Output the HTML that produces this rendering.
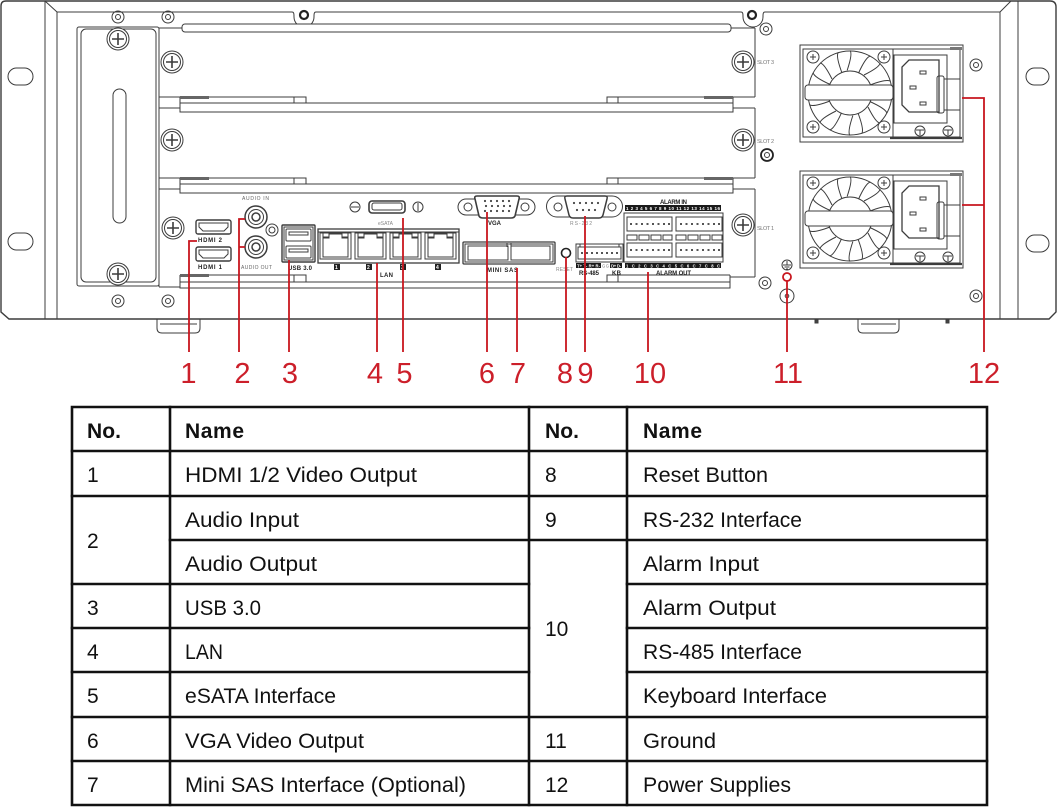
<!DOCTYPE html>
<html><head><meta charset="utf-8"><title>Rear Panel</title>
<style>html,body{margin:0;padding:0;background:#fff}svg{display:block}</style>
</head><body>
<svg xmlns="http://www.w3.org/2000/svg" width="1058" height="808" viewBox="0 0 1058 808" font-family="Liberation Sans, Arial, sans-serif">
<rect width="1058" height="808" fill="#fff"/>

<!-- ================= DEVICE ================= -->
<g fill="none" stroke="#3c3c3c" stroke-width="1">
 <!-- chassis -->
 <path d="M6,1 H1050 Q1056,1 1056,7 V312 L1049,319 H9 L1,312 V6 Q1,1 6,1 Z" stroke-width="1.4"/>
 <path d="M45,1 V319 M57,12 V319 M45,1 L57,12"/>
 <path d="M1018,1 V319 M1000,12 V319 M1000,12 L1011,1"/>
 <path d="M57,12 H292 C294,12 294,14 294,17 A10,10 0 0 0 314,17 C314,14 314,12 316,12 H741 C743,12 743,14 743,17 A10,10 0 0 0 763,17 C763,14 763,12 765,12 H1000"/>
 <rect x="8" y="68" width="25" height="17" rx="8.5"/>
 <rect x="8" y="233" width="25" height="17" rx="8.5"/>
 <rect x="1026" y="68" width="23" height="17" rx="8.5"/>
 <rect x="1026" y="235" width="23" height="17" rx="8.5"/>
 <!-- feet -->
 <path d="M157,319 V328 Q157,333 162,333 H195 Q200,333 200,328 V319 M160,324 H197"/>
 <path d="M858,319 V328 Q858,333 863,333 H894 Q899,333 899,328 V319 M861,324 H896"/>
 <rect x="815" y="320" width="3" height="3" fill="#444"/>
 <rect x="946" y="320" width="3" height="3" fill="#444"/>

 <!-- top screws -->
 <circle cx="304" cy="15" r="4" stroke="#222" stroke-width="2.2"/>
 <circle cx="752" cy="15" r="4" stroke="#222" stroke-width="2.2"/>
 <!-- small double circles -->
 <circle cx="118" cy="17" r="6"/><circle cx="118" cy="17" r="2.5"/>
 <circle cx="168" cy="17" r="6"/><circle cx="168" cy="17" r="2.5"/>
 <circle cx="118" cy="301" r="6"/><circle cx="118" cy="301" r="2.5"/>
 <circle cx="168" cy="301" r="6"/><circle cx="168" cy="301" r="2.5"/>
 <circle cx="766" cy="29" r="6"/><circle cx="766" cy="29" r="2.5"/>
 <circle cx="976" cy="65" r="6"/><circle cx="976" cy="65" r="2.5"/>
 <circle cx="976" cy="296" r="6"/><circle cx="976" cy="296" r="2.5"/>
 <circle cx="765" cy="283" r="6"/><circle cx="765" cy="283" r="2.5"/>
 <circle cx="767" cy="155" r="6" stroke-width="1.8" stroke="#222"/><circle cx="767" cy="155" r="2.5"/>
 <circle cx="787" cy="296" r="7"/><circle cx="787" cy="296" r="1.8"/>
 <!-- ground symbol -->
 <circle cx="787" cy="265" r="5"/>
 <path d="M787,261 V265 M783,265 H791 M784.5,267 H789.5 M786,269 H788"/>

 <!-- left blank plate -->
 <rect x="77" y="27" width="82" height="259" rx="2"/>
 <rect x="81" y="29" width="75" height="253" rx="5"/>
 <rect x="113" y="89" width="13" height="134" rx="6.5"/>
 <g transform="translate(118,39)"><circle r="11" fill="#fff"/><circle r="8.5"/><path d="M-6,0H6M0,-6V6" stroke-width="1.6"/></g>
 <g transform="translate(118,274)"><circle r="11" fill="#fff"/><circle r="8.5"/><path d="M-6,0H6M0,-6V6" stroke-width="1.6"/></g>

 <!-- slot panels -->
 <path d="M159,28 V287 M159,28 H755"/>
 <rect x="182" y="24" width="549" height="8" rx="3" fill="#fff"/>
 <path d="M755,28 V97 M755,108 V178 M755,189 V277"/>
 <!-- divider 1 -->
 <path d="M159,97 H180 M159,108 H180 M733,97 H755 M733,108 H755"/>
 <path d="M180,97 V112 H733 V97 M180,103 H733 M180,97 H306 V103 M294,97 V103 M607,103 V97 H733 M618,97 V103"/>
 <rect x="180" y="96" width="29" height="3" fill="#666" stroke="none"/>
 <rect x="704" y="96" width="29" height="3" fill="#666" stroke="none"/>
 <!-- divider 2 -->
 <path d="M159,178 H180 M159,189 H180 M733,178 H755 M733,189 H755"/>
 <path d="M180,178 V193 H733 V178 M180,184 H733 M180,178 H306 V184 M294,178 V184 M607,184 V178 H733 M618,178 V184"/>
 <rect x="180" y="177" width="29" height="3" fill="#666" stroke="none"/>
 <rect x="704" y="177" width="29" height="3" fill="#666" stroke="none"/>
 <!-- slot 1 bottom bracket -->
 <path d="M180,275 V288 H730 V275 M180,282 H730 M180,275 H306 V282 M294,275 V282 M607,282 V275 H730 M618,275 V282 M159,287 H180 M730,277 H755"/>
 <rect x="180" y="274" width="29" height="3" fill="#666" stroke="none"/>
 <!-- slot screws -->
 <g transform="translate(172,62)"><circle r="11" fill="#fff"/><circle r="8.5"/><path d="M-6,0H6M0,-6V6" stroke-width="1.6"/></g>
 <g transform="translate(743,62)"><circle r="11" fill="#fff"/><circle r="8.5"/><path d="M-6,0H6M0,-6V6" stroke-width="1.6"/></g>
 <g transform="translate(172,140)"><circle r="11" fill="#fff"/><circle r="8.5"/><path d="M-6,0H6M0,-6V6" stroke-width="1.6"/></g>
 <g transform="translate(743,140)"><circle r="11" fill="#fff"/><circle r="8.5"/><path d="M-6,0H6M0,-6V6" stroke-width="1.6"/></g>
 <g transform="translate(173,228)"><circle r="11" fill="#fff"/><circle r="8.5"/><path d="M-6,0H6M0,-6V6" stroke-width="1.6"/></g>
 <g transform="translate(743,225)"><circle r="11" fill="#fff"/><circle r="8.5"/><path d="M-6,0H6M0,-6V6" stroke-width="1.6"/></g>

 <!-- ===== I/O ===== -->
 <!-- HDMI -->
 <rect x="196" y="220" width="35" height="14" rx="2" stroke-width="1.4"/>
 <path d="M199,223 H228 V227 L224,231 H203 L199,227 Z"/>
 <rect x="196" y="247" width="35" height="14" rx="2" stroke-width="1.4"/>
 <path d="M199,250 H228 V254 L224,258 H203 L199,254 Z"/>
 <!-- audio -->
 <circle cx="256" cy="217" r="11" stroke-width="1.5"/><circle cx="256" cy="217" r="7.5"/><circle cx="256" cy="217" r="4" stroke-width="1.5"/>
 <circle cx="256" cy="247" r="11" stroke-width="1.5"/><circle cx="256" cy="247" r="7.5"/><circle cx="256" cy="247" r="4" stroke-width="1.5"/>
 <circle cx="272" cy="230" r="6"/><circle cx="272" cy="230" r="3"/>
 <!-- USB -->
 <rect x="282" y="225" width="33" height="37" rx="1" stroke-width="1.4"/>
 <rect x="284" y="227" width="29" height="33"/>
 <rect x="286" y="229" width="25" height="12" rx="1"/>
 <rect x="289" y="232" width="19" height="3"/>
 <rect x="286" y="246" width="25" height="12" rx="1"/>
 <rect x="289" y="249" width="19" height="3"/>
 <!-- LAN -->
 <rect x="318" y="229" width="141" height="34" stroke-width="1.3"/>
 <path d="M318,232 H459"/>
 <g>
  <rect x="320" y="233" width="31" height="26"/>
  <rect x="323" y="233" width="6" height="4"/><rect x="342" y="233" width="6" height="4"/>
  <path d="M323,238 H329 V234 H342 V238 H348 V257 H323 Z"/>
  <rect x="355" y="233" width="31" height="26"/>
  <rect x="358" y="233" width="6" height="4"/><rect x="377" y="233" width="6" height="4"/>
  <path d="M358,238 H364 V234 H377 V238 H383 V257 H358 Z"/>
  <rect x="390" y="233" width="31" height="26"/>
  <rect x="393" y="233" width="6" height="4"/><rect x="412" y="233" width="6" height="4"/>
  <path d="M393,238 H399 V234 H412 V238 H418 V257 H393 Z"/>
  <rect x="425" y="233" width="31" height="26"/>
  <rect x="428" y="233" width="6" height="4"/><rect x="447" y="233" width="6" height="4"/>
  <path d="M428,238 H434 V234 H447 V238 H453 V257 H428 Z"/>
 </g>
 <rect x="334" y="264" width="6" height="6" fill="#222" stroke="none"/>
 <rect x="366" y="264" width="6" height="6" fill="#222" stroke="none"/>
 <rect x="400" y="264" width="6" height="6" fill="#222" stroke="none"/>
 <rect x="435" y="264" width="6" height="6" fill="#222" stroke="none"/>
 <!-- eSATA -->
 <circle cx="355" cy="207" r="5"/><path d="M351,207 H359"/>
 <rect x="369" y="201" width="36" height="12" rx="3" stroke-width="1.6"/>
 <rect x="372" y="203" width="30" height="7" rx="2"/>
 <circle cx="418" cy="207" r="5"/><path d="M418,203 V211"/>
 <!-- VGA -->
 <path d="M466,199 H527 A8,8 0 0 1 527,215 H466 A8,8 0 0 1 466,199 Z"/>
 <circle cx="468" cy="207" r="4"/><circle cx="525" cy="207" r="4"/>
 <path d="M477,196 H517 Q520,196 519,199 L515,216 Q514,218 511,218 H483 Q480,218 479,216 L475,199 Q474,196 477,196 Z" fill="#fff" stroke-width="1.6"/>
 <g fill="#444" stroke="none">
  <circle cx="485" cy="201" r="1.1"/><circle cx="491" cy="201" r="1.1"/><circle cx="497" cy="201" r="1.1"/><circle cx="503" cy="201" r="1.1"/><circle cx="509" cy="201" r="1.1"/>
  <circle cx="486" cy="206" r="1.1"/><circle cx="492" cy="206" r="1.1"/><circle cx="498" cy="206" r="1.1"/><circle cx="504" cy="206" r="1.1"/><circle cx="510" cy="206" r="1.1"/>
  <circle cx="485" cy="211" r="1.1"/><circle cx="491" cy="211" r="1.1"/><circle cx="497" cy="211" r="1.1"/><circle cx="503" cy="211" r="1.1"/><circle cx="509" cy="211" r="1.1"/>
 </g>
 <!-- RS232 -->
 <path d="M557,196 H612 A10,10 0 0 1 612,217 H557 A10,10 0 0 1 557,196 Z"/>
 <circle cx="558" cy="207" r="4"/><circle cx="612" cy="207" r="4"/>
 <path d="M567,196 H605 Q608,196 607,199 L603,215 Q602,218 599,218 H573 Q570,218 569,215 L565,199 Q564,196 567,196 Z" fill="#fff" stroke-width="1.5"/>
 <g fill="#444" stroke="none">
  <circle cx="574" cy="203" r="1.1"/><circle cx="580" cy="203" r="1.1"/><circle cx="586" cy="203" r="1.1"/><circle cx="592" cy="203" r="1.1"/><circle cx="598" cy="203" r="1.1"/>
  <circle cx="577" cy="210" r="1.1"/><circle cx="583" cy="210" r="1.1"/><circle cx="589" cy="210" r="1.1"/><circle cx="595" cy="210" r="1.1"/>
 </g>
 <!-- Mini SAS -->
 <rect x="463" y="242" width="92" height="22" rx="1" stroke-width="1.3"/>
 <rect x="465" y="244" width="88" height="18"/>
 <rect x="468" y="246" width="40" height="14"/>
 <rect x="511" y="246" width="39" height="14"/>
 <path d="M507,243 V247 M511,243 V247"/>
 <!-- Reset -->
 <circle cx="566" cy="253" r="4.5" stroke-width="1.6" stroke="#222"/>
 <!-- Alarm block -->
 <rect x="625" y="205" width="96" height="6" fill="#1a1a1a" stroke="none"/>
 <rect x="624" y="213" width="99" height="49"/>
 <rect x="627" y="217" width="45" height="14"/>
 <rect x="676" y="217" width="46" height="14"/>
 <rect x="627" y="243" width="45" height="14"/>
 <rect x="676" y="243" width="46" height="14"/>
 <path d="M627,235 h10 v5 h-10 z M639,235 h10 v5 h-10 z M651,235 h10 v5 h-10 z M663,235 h9 v5 h-9 z M676,235 h10 v5 h-10 z M688,235 h10 v5 h-10 z M700,235 h10 v5 h-10 z M712,235 h10 v5 h-10 z"/>
 <g fill="#555" stroke="none">
  <rect x="630" y="223" width="2" height="2"/><rect x="635.5" y="223" width="2" height="2"/><rect x="641" y="223" width="2" height="2"/><rect x="646.5" y="223" width="2" height="2"/><rect x="652" y="223" width="2" height="2"/><rect x="657.5" y="223" width="2" height="2"/><rect x="663" y="223" width="2" height="2"/><rect x="668" y="223" width="2" height="2"/>
  <rect x="680" y="223" width="2" height="2"/><rect x="685.5" y="223" width="2" height="2"/><rect x="691" y="223" width="2" height="2"/><rect x="696.5" y="223" width="2" height="2"/><rect x="702" y="223" width="2" height="2"/><rect x="707.5" y="223" width="2" height="2"/><rect x="713" y="223" width="2" height="2"/><rect x="718" y="223" width="2" height="2"/>
  <rect x="630" y="249" width="2" height="2"/><rect x="635.5" y="249" width="2" height="2"/><rect x="641" y="249" width="2" height="2"/><rect x="646.5" y="249" width="2" height="2"/><rect x="652" y="249" width="2" height="2"/><rect x="657.5" y="249" width="2" height="2"/><rect x="663" y="249" width="2" height="2"/><rect x="668" y="249" width="2" height="2"/>
  <rect x="680" y="249" width="2" height="2"/><rect x="685.5" y="249" width="2" height="2"/><rect x="691" y="249" width="2" height="2"/><rect x="696.5" y="249" width="2" height="2"/><rect x="702" y="249" width="2" height="2"/><rect x="707.5" y="249" width="2" height="2"/><rect x="713" y="249" width="2" height="2"/><rect x="718" y="249" width="2" height="2"/>
 </g>
 <!-- RS485 / KB connector -->
 <rect x="576" y="244" width="47" height="18" fill="#fff"/>
 <path d="M578,247 H621 V259 H578 Z M580,247 V244 M619,247 V244"/>
 <g fill="#555" stroke="none">
  <rect x="581" y="252" width="2" height="2"/><rect x="586" y="252" width="2" height="2"/><rect x="591" y="252" width="2" height="2"/><rect x="596" y="252" width="2" height="2"/><rect x="601" y="252" width="2" height="2"/><rect x="606" y="252" width="2" height="2"/><rect x="611" y="252" width="2" height="2"/><rect x="616" y="252" width="2" height="2"/>
 </g>
 <rect x="576" y="263" width="25" height="5" fill="#1a1a1a" stroke="none"/>
 <rect x="610" y="263" width="12" height="5" fill="#1a1a1a" stroke="none"/>
 <rect x="625" y="263" width="96" height="5" fill="#1a1a1a" stroke="none"/>

 <!-- ===== PSUs ===== -->
 <g>
  <rect x="800" y="45" width="163" height="97"/>
  <rect x="803" y="49" width="157" height="88"/>
  <path d="M890,138 H962" stroke-width="2.2"/>
  <rect x="950" y="47" width="12" height="3" fill="#777" stroke="none"/>
  <circle cx="850" cy="93" r="42"/>
  <g transform="translate(850,93)">
   <path d="M14,-18 Q30,-26 30,-30 M20,-8 Q36,-14 40,-12"/>
   <path d="M14,-18 Q30,-26 30,-30 M20,-8 Q36,-14 40,-12" transform="rotate(45)"/>
   <path d="M14,-18 Q30,-26 30,-30 M20,-8 Q36,-14 40,-12" transform="rotate(90)"/>
   <path d="M14,-18 Q30,-26 30,-30 M20,-8 Q36,-14 40,-12" transform="rotate(135)"/>
   <path d="M14,-18 Q30,-26 30,-30 M20,-8 Q36,-14 40,-12" transform="rotate(180)"/>
   <path d="M14,-18 Q30,-26 30,-30 M20,-8 Q36,-14 40,-12" transform="rotate(225)"/>
   <path d="M14,-18 Q30,-26 30,-30 M20,-8 Q36,-14 40,-12" transform="rotate(270)"/>
   <path d="M14,-18 Q30,-26 30,-30 M20,-8 Q36,-14 40,-12" transform="rotate(315)"/>
   <circle r="22"/>
  </g>
  <rect x="805" y="85" width="88" height="15" rx="3" fill="#fff"/>
  <path d="M893,49 V137"/>
  <g transform="translate(813,57)"><circle r="6" fill="#fff"/><path d="M-3,0H3M0,-3V3"/></g>
  <g transform="translate(884,57)"><circle r="6" fill="#fff"/><path d="M-3,0H3M0,-3V3"/></g>
  <g transform="translate(813,127)"><circle r="6" fill="#fff"/><path d="M-3,0H3M0,-3V3"/></g>
  <g transform="translate(884,127)"><circle r="6" fill="#fff"/><path d="M-3,0H3M0,-3V3"/></g>
  <rect x="894" y="55" width="53" height="68"/>
  <path d="M909,60 H939 V112 H909 L902,105 V67 Z" stroke-width="1.3"/>
  <rect x="920" y="71" width="6" height="3"/>
  <rect x="910" y="86" width="6" height="3"/>
  <rect x="920" y="102" width="6" height="3"/>
  <rect x="937" y="76" width="7" height="37" rx="2"/>
  <path d="M944,79 H960 M944,110 H960"/>
  <circle cx="920" cy="131" r="5"/><path d="M916,130 H924 M920,130 V135"/>
  <circle cx="948" cy="131" r="5"/><path d="M944,130 H952 M948,130 V135"/>
 </g>
 <g transform="translate(0,126)">
  <rect x="800" y="45" width="163" height="97"/>
  <rect x="803" y="49" width="157" height="88"/>
  <path d="M890,138 H962" stroke-width="2.2"/>
  <rect x="950" y="47" width="12" height="3" fill="#777" stroke="none"/>
  <circle cx="850" cy="93" r="42"/>
  <g transform="translate(850,93)">
   <path d="M14,-18 Q30,-26 30,-30 M20,-8 Q36,-14 40,-12"/>
   <path d="M14,-18 Q30,-26 30,-30 M20,-8 Q36,-14 40,-12" transform="rotate(45)"/>
   <path d="M14,-18 Q30,-26 30,-30 M20,-8 Q36,-14 40,-12" transform="rotate(90)"/>
   <path d="M14,-18 Q30,-26 30,-30 M20,-8 Q36,-14 40,-12" transform="rotate(135)"/>
   <path d="M14,-18 Q30,-26 30,-30 M20,-8 Q36,-14 40,-12" transform="rotate(180)"/>
   <path d="M14,-18 Q30,-26 30,-30 M20,-8 Q36,-14 40,-12" transform="rotate(225)"/>
   <path d="M14,-18 Q30,-26 30,-30 M20,-8 Q36,-14 40,-12" transform="rotate(270)"/>
   <path d="M14,-18 Q30,-26 30,-30 M20,-8 Q36,-14 40,-12" transform="rotate(315)"/>
   <circle r="22"/>
  </g>
  <rect x="805" y="85" width="88" height="15" rx="3" fill="#fff"/>
  <path d="M893,49 V137"/>
  <g transform="translate(813,57)"><circle r="6" fill="#fff"/><path d="M-3,0H3M0,-3V3"/></g>
  <g transform="translate(884,57)"><circle r="6" fill="#fff"/><path d="M-3,0H3M0,-3V3"/></g>
  <g transform="translate(813,127)"><circle r="6" fill="#fff"/><path d="M-3,0H3M0,-3V3"/></g>
  <g transform="translate(884,127)"><circle r="6" fill="#fff"/><path d="M-3,0H3M0,-3V3"/></g>
  <rect x="894" y="55" width="53" height="68"/>
  <path d="M909,60 H939 V112 H909 L902,105 V67 Z" stroke-width="1.3"/>
  <rect x="920" y="71" width="6" height="3"/>
  <rect x="910" y="86" width="6" height="3"/>
  <rect x="920" y="102" width="6" height="3"/>
  <rect x="937" y="76" width="7" height="37" rx="2"/>
  <path d="M944,79 H960 M944,110 H960"/>
  <circle cx="920" cy="131" r="5"/><path d="M916,130 H924 M920,130 V135"/>
  <circle cx="948" cy="131" r="5"/><path d="M944,130 H952 M948,130 V135"/>
 </g>
</g>

<!-- device labels -->
<g font-family="Liberation Sans, Arial, sans-serif">
 <text x="757" y="64" font-size="5.5" fill="#777" textLength="17">SLOT 3</text>
 <text x="757" y="143" font-size="5.5" fill="#777" textLength="17">SLOT 2</text>
 <text x="757" y="230" font-size="5.5" fill="#777" textLength="17">SLOT 1</text>
 <text x="198" y="242" font-size="6" font-weight="bold" fill="#222" textLength="24">HDMI 2</text>
 <text x="198" y="269" font-size="6" font-weight="bold" fill="#222" textLength="24">HDMI 1</text>
 <text x="242" y="200" font-size="5" fill="#666" textLength="27">AUDIO IN</text>
 <text x="241" y="269" font-size="5" fill="#666" textLength="31">AUDIO OUT</text>
 <text x="288" y="270" font-size="6" font-weight="bold" fill="#222" textLength="24">USB 3.0</text>
 <text x="335" y="269" font-size="5" font-weight="bold" fill="#fff">1</text>
 <text x="367" y="269" font-size="5" font-weight="bold" fill="#fff">2</text>
 <text x="401" y="269" font-size="5" font-weight="bold" fill="#fff">3</text>
 <text x="436" y="269" font-size="5" font-weight="bold" fill="#fff">4</text>
 <text x="380" y="277" font-size="6" font-weight="bold" fill="#222" textLength="13">LAN</text>
 <text x="378" y="225" font-size="5" fill="#888" textLength="15">eSATA</text>
 <text x="488" y="225" font-size="6" font-weight="bold" fill="#222" textLength="13">VGA</text>
 <text x="570" y="225" font-size="5" fill="#888" textLength="22">RS-232</text>
 <text x="487" y="272" font-size="6" font-weight="bold" fill="#222" textLength="31">MINI SAS</text>
 <text x="556" y="271" font-size="5" fill="#888" textLength="17">RESET</text>
 <text x="660" y="204" font-size="6" font-weight="bold" fill="#222" textLength="27">ALARM IN</text>
 <text x="626" y="210" font-size="4.5" font-weight="bold" fill="#fff" textLength="94">1 2 3 4 5 6 7 8  9 10 11 12 13 14 15 16</text>
 <text x="577" y="267.5" font-size="4.2" font-weight="bold" fill="#fff" textLength="23">T+ T- R+ R-</text>
 <text x="602" y="267.5" font-size="4.2" fill="#777" textLength="7">GG</text>
 <text x="611" y="267.5" font-size="4.2" font-weight="bold" fill="#fff" textLength="10">D+ D-</text>
 <text x="626" y="267.5" font-size="4.2" font-weight="bold" fill="#fff" textLength="94">1 C 2 C 3 C 4 C   5 C 6 C 7 C 8 C</text>
 <text x="579" y="275" font-size="6" font-weight="bold" fill="#222" textLength="20">RS-485</text>
 <text x="612" y="275" font-size="6" font-weight="bold" fill="#222" textLength="9">KB</text>
 <text x="656" y="275" font-size="6" font-weight="bold" fill="#222" textLength="35">ALARM OUT</text>
</g>

<!-- red callout lines -->
<g stroke="#c8161e" stroke-width="1.8" fill="none">
 <path d="M189,352 V241 H197"/>
 <path d="M239,352 V219 H245 M239,247 H245"/>
 <path d="M289,352 V260"/>
 <path d="M377,352 V263"/>
 <path d="M403,352 V218"/>
 <path d="M487,352 V212"/>
 <path d="M517,352 V268"/>
 <path d="M566,352 V257"/>
 <path d="M585,352 V216"/>
 <path d="M648,352 V272"/>
 <path d="M787,352 V281"/>
 <circle cx="787" cy="277" r="4"/>
 <path d="M984,352 V98 H962 M984,205 H962"/>
</g>

<!-- red numbers -->
<g fill="#cc1f2a" font-size="29" text-anchor="middle" font-family="Liberation Sans, Arial, sans-serif">
 <text x="188.5" y="383">1</text>
 <text x="242.5" y="383">2</text>
 <text x="290" y="383">3</text>
 <text x="375" y="383">4</text>
 <text x="404.5" y="383">5</text>
 <text x="487" y="383">6</text>
 <text x="518" y="383">7</text>
 <text x="565" y="383">8</text>
 <text x="585.5" y="383">9</text>
 <text x="650" y="383">10</text>
 <text x="788" y="383">11</text>
 <text x="984" y="383">12</text>
</g>

<!-- ================= TABLE ================= -->
<g stroke="#111" stroke-width="2.6" fill="none" stroke-linecap="square">
 <path d="M72,407 H987 V805 H72 Z"/>
 <path d="M170,407 V805 M529,407 V805 M627,407 V805"/>
 <path d="M72,451 H987 M72,496 H987 M170,540 H987 M72,584 H529 M627,584 H987 M72,628 H529 M627,628 H987 M72,672 H529 M627,672 H987 M72,717 H987 M72,761 H987"/>
</g>
<g fill="#111" font-size="21" font-family="Liberation Sans, Arial, sans-serif">
 <text x="87" y="438" font-weight="bold" textLength="34">No.</text>
 <text x="185" y="438" font-weight="bold" textLength="59">Name</text>
 <text x="545" y="438" font-weight="bold" textLength="34">No.</text>
 <text x="643" y="438" font-weight="bold" textLength="59">Name</text>

 <text x="87" y="482">1</text>
 <text x="185" y="482" textLength="232" lengthAdjust="spacingAndGlyphs">HDMI 1/2 Video Output</text>
 <text x="87" y="548">2</text>
 <text x="185" y="527" textLength="114" lengthAdjust="spacingAndGlyphs">Audio Input</text>
 <text x="185" y="571" textLength="132" lengthAdjust="spacingAndGlyphs">Audio Output</text>
 <text x="87" y="615">3</text>
 <text x="185" y="615" textLength="76" lengthAdjust="spacingAndGlyphs">USB 3.0</text>
 <text x="87" y="659">4</text>
 <text x="185" y="659" textLength="38" lengthAdjust="spacingAndGlyphs">LAN</text>
 <text x="87" y="703">5</text>
 <text x="185" y="703" textLength="151" lengthAdjust="spacingAndGlyphs">eSATA Interface</text>
 <text x="87" y="748">6</text>
 <text x="185" y="748" textLength="179" lengthAdjust="spacingAndGlyphs">VGA Video Output</text>
 <text x="87" y="792">7</text>
 <text x="185" y="792" textLength="281" lengthAdjust="spacingAndGlyphs">Mini SAS Interface (Optional)</text>

 <text x="545" y="482">8</text>
 <text x="643" y="482" textLength="125" lengthAdjust="spacingAndGlyphs">Reset Button</text>
 <text x="545" y="527">9</text>
 <text x="643" y="527" textLength="159" lengthAdjust="spacingAndGlyphs">RS-232 Interface</text>
 <text x="545" y="636">10</text>
 <text x="643" y="571" textLength="116" lengthAdjust="spacingAndGlyphs">Alarm Input</text>
 <text x="643" y="615" textLength="133" lengthAdjust="spacingAndGlyphs">Alarm Output</text>
 <text x="643" y="659" textLength="159" lengthAdjust="spacingAndGlyphs">RS-485 Interface</text>
 <text x="643" y="703" textLength="184" lengthAdjust="spacingAndGlyphs">Keyboard Interface</text>
 <text x="545" y="748">11</text>
 <text x="643" y="748" textLength="73" lengthAdjust="spacingAndGlyphs">Ground</text>
 <text x="545" y="792">12</text>
 <text x="643" y="792" textLength="148" lengthAdjust="spacingAndGlyphs">Power Supplies</text>
</g>
</svg>
</body></html>
